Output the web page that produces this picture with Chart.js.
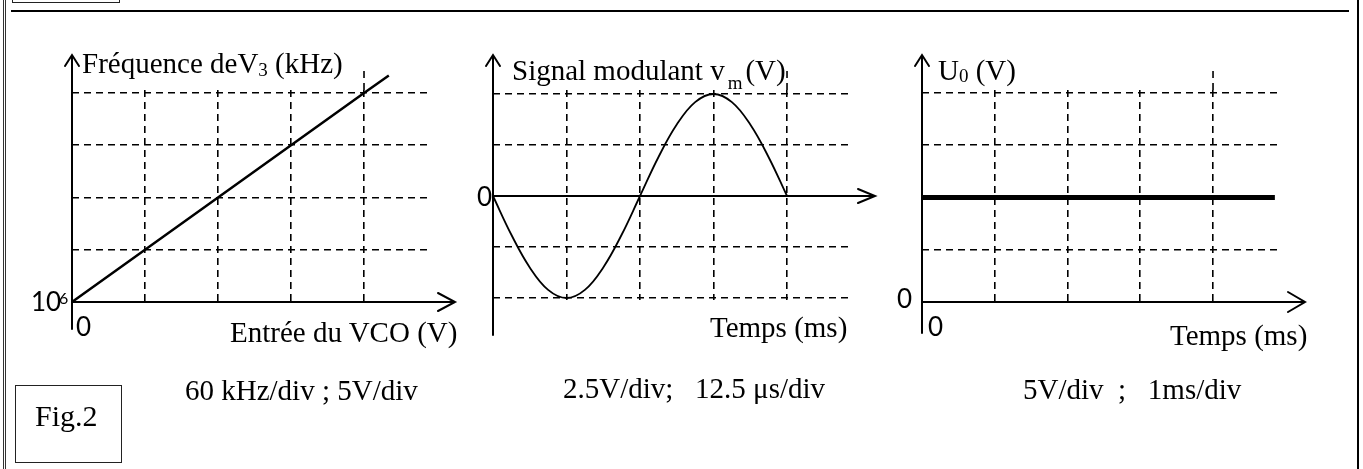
<!DOCTYPE html>
<html>
<head>
<meta charset="utf-8">
<script src="https://cdn.jsdelivr.net/npm/chart.js@4.4.1/dist/chart.umd.min.js"></script>
<style>
body { margin: 0; width: 1363px; height: 469px; overflow: hidden; background: #fff; position: relative; font-family: "Liberation Serif", serif; color: #000; }
canvas { position: absolute; left: 0; top: 0; }
.t { position: absolute; white-space: pre; font-size: 29px; line-height: 29px; }
.s { position: absolute; white-space: pre; font-family: Lato, sans-serif; font-size: 26px; line-height: 26px; }
.ln { position: absolute; background: #000; }
.box { position: absolute; border: 1.5px solid #222; box-sizing: border-box; }
</style>
</head>
<body>

<!-- page frame -->
<div class="ln" style="left:3px;top:0;width:1px;height:469px;background:#333"></div>
<div class="ln" style="left:5px;top:0;width:1px;height:469px;background:#333"></div>
<div class="box" style="left:12px;top:-4px;width:108px;height:7px;border-width:1px"></div>
<div class="ln" style="left:11px;top:10px;width:1338px;height:2px"></div>
<div class="ln" style="left:1357px;top:0;width:2px;height:469px"></div>
<div class="box" style="left:15px;top:385px;width:107px;height:78px"></div>

<canvas id="c1" width="1363" height="469"></canvas>
<canvas id="c2" width="1363" height="469"></canvas>
<canvas id="c3" width="1363" height="469"></canvas>

<!-- panel 1 -->
<div class="t" style="left:82px;top:49px">Fréquence deV<span style="font-size:19px;position:relative;top:3px">3</span> (kHz)</div>
<div class="s" style="left:31px;top:288px">10</div>
<div class="s" style="left:59px;top:290px;font-size:16px;line-height:16px">6</div>
<div class="s" style="left:76px;top:313px">0</div>
<div class="t" style="left:230px;top:318px">Entrée du VCO (V)</div>
<div class="t" style="left:185px;top:376px">60 kHz/div ; 5V/div</div>
<div class="t" style="left:35px;top:401px;font-size:30px;line-height:30px">Fig.2</div>

<!-- panel 2 -->
<div class="t" style="left:512px;top:56px">Signal modulant v<span style="font-size:19px;position:relative;top:9px;margin-left:3px;margin-right:3px">m</span>(V)</div>
<div class="s" style="left:477px;top:183px">0</div>
<div class="t" style="left:710px;top:313px">Temps (ms)</div>
<div class="t" style="left:563px;top:374px">2.5V/div;   12.5 μs/div</div>

<!-- panel 3 -->
<div class="t" style="left:938px;top:56px">U<span style="font-size:19px;position:relative;top:2px">0</span> (V)</div>
<div class="s" style="left:897px;top:285px">0</div>
<div class="s" style="left:928px;top:313px">0</div>
<div class="t" style="left:1170px;top:321px">Temps (ms)</div>
<div class="t" style="left:1023px;top:375px">5V/div  ;   1ms/div</div>

<script>
// Fig. a : VCO characteristic (5 V/div, 60 kHz/div)
const vcoInput = [0, 5, 10, 15, 20, 21.7];                                   // V
const vcoFreq = [1000000, 1000060, 1000120, 1000180, 1000240, 1000260];      // kHz
const vcoTicks = [5, 10, 15, 20];
const freqTicks = [1000060, 1000120, 1000180, 1000240];

// Fig. b : modulating signal vm (2.5 V/div, 12.5 µs/div)
const sigTime = [0, 3.125, 6.25, 9.375, 12.5, 15.625, 18.75, 21.875, 25,
                 28.125, 31.25, 34.375, 37.5, 40.625, 43.75, 46.875, 50];
const sigVolt = [0, -1.9, -3.5, -4.6, -5, -4.6, -3.5, -1.9, 0,
                 1.9, 3.5, 4.6, 5, 4.6, 3.5, 1.9, 0];
const sigTimeTicks = [12.5, 25, 37.5, 50];
const sigVoltTicks = [-5, -2.5, 2.5, 5];

// Fig. c : U0 (5 V/div, 1 ms/div)
const u0Time = [0, 4.85];
const u0Volt = [10, 10];
const u0TimeTicks = [1, 2, 3, 4];
const u0VoltTicks = [5, 15, 20];

const W = 1363, H = 469;

// axes with open arrow heads + the longer last vertical grid line
const axesPlugin = {
    id: "axes",
    beforeDatasetsDraw(chart, args, opts)
    {
        const {ctx, chartArea: a, scales} = chart;
        const xs = scales.x, ys = scales.y;
        const x0 = xs.getPixelForValue(opts.xOrigin);
        const y0 = ys.getPixelForValue(opts.yOrigin);

        ctx.save();
        ctx.strokeStyle = "#000";

        // longer last vertical grid line
        const xl = xs.getPixelForValue(opts.lastTick);
        ctx.lineWidth = 1.6;
        ctx.setLineDash([7, 5]);
        ctx.beginPath();
        ctx.moveTo(xl, a.top);
        ctx.lineTo(xl, opts.extTop);
        ctx.stroke();
        ctx.setLineDash([]);

        ctx.lineWidth = 2;
        ctx.lineCap = "round";
        // y axis
        ctx.beginPath();
        ctx.moveTo(x0, opts.yBottom);
        ctx.lineTo(x0, opts.yTop);
        ctx.moveTo(x0 - 7, opts.yTop + 11);
        ctx.lineTo(x0, opts.yTop);
        ctx.lineTo(x0 + 7, opts.yTop + 11);
        ctx.stroke();
        // x axis
        ctx.beginPath();
        ctx.moveTo(x0, y0);
        ctx.lineTo(opts.xEnd, y0);
        ctx.moveTo(opts.xEnd - 17, y0 - opts.wing);
        ctx.lineTo(opts.xEnd, y0);
        ctx.lineTo(opts.xEnd - 17, y0 + opts.wing);
        ctx.stroke();
        ctx.restore();
    }
};

function makePanel(id, {xs, ys, xTicks, yTicks, xMin, xMax, yMin, yMax, area, lineWidth, tension, axes})
{
    const gridScale = (min, max, ticks) => ({
        type: "linear",
        min: min,
        max: max,
        afterBuildTicks: s => { s.ticks = ticks.map(v => ({value: v})); },
        ticks: {display: false},
        grid: {color: "#000", lineWidth: 1.6, drawTicks: false},
        border: {display: false, dash: [7, 5]}
    });

    const config = {
        type: "line",
        data: {
            datasets: [{
                data: xs.map((v, i) => ({x: v, y: ys[i]})),
                borderColor: "#000",
                borderWidth: lineWidth,
                pointRadius: 0,
                tension: tension,
                fill: false,
                clip: false
            }]
        },
        options: {
            responsive: false,
            animation: false,
            devicePixelRatio: 1,
            layout: {padding: {left: area[0], top: area[1], right: W - area[2], bottom: H - area[3]}},
            scales: {
                x: gridScale(xMin, xMax, xTicks),
                y: gridScale(yMin, yMax, yTicks)
            },
            plugins: {legend: {display: false}, tooltip: {enabled: false}, axes: axes}
        },
        plugins: [axesPlugin]
    };

    return new Chart(document.getElementById(id), config);
}

makePanel("c1", {
    xs: vcoInput, ys: vcoFreq, xTicks: vcoTicks, yTicks: freqTicks,
    xMin: 0, xMax: 24.52, yMin: 1000000, yMax: 1000243.4,
    area: [72, 90, 430, 302], lineWidth: 2.5, tension: 0,
    axes: {xOrigin: 0, yOrigin: 1000000, lastTick: 20, extTop: 68, yTop: 55, yBottom: 329, xEnd: 455, wing: 9}
});

makePanel("c2", {
    xs: sigTime, ys: sigVolt, xTicks: sigTimeTicks, yTicks: sigVoltTicks,
    xMin: 0, xMax: 61.05, yMin: -5.098, yMax: 5.196,
    area: [493, 90, 852, 300], lineWidth: 1.8, tension: 0.4,
    axes: {xOrigin: 0, yOrigin: 0, lastTick: 50, extTop: 68, yTop: 55, yBottom: 335, xEnd: 875, wing: 7}
});

makePanel("c3", {
    xs: u0Time, ys: u0Volt, xTicks: u0TimeTicks, yTicks: u0VoltTicks,
    xMin: 0, xMax: 4.893, yMin: 0, yMax: 20.29,
    area: [922, 90, 1278, 302], lineWidth: 5, tension: 0,
    axes: {xOrigin: 0, yOrigin: 0, lastTick: 4, extTop: 68, yTop: 55, yBottom: 333, xEnd: 1305, wing: 10}
});
</script>
</body>
</html>
